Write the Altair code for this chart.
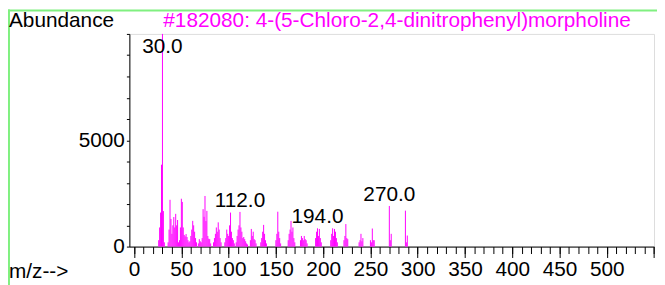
import altair as alt
import pandas as pd

# ---- data ----
mz = [26, 27, 28, 29, 30, 31, 32,
      36, 37, 38, 39, 40, 41, 42, 43, 44, 45, 46, 47, 48,
      49, 50, 51, 52, 53, 54, 55, 56, 57, 58, 59,
      60, 61, 62, 63, 64, 65, 66, 68, 69, 70, 71,
      72, 73, 74, 75, 76, 77, 78, 79, 80, 81,
      84, 85, 86, 87, 88, 89, 90, 91, 92,
      96, 97, 98, 99, 100, 101, 102, 103, 104, 105, 106,
      108, 109, 110, 111, 112, 113, 114, 115, 116, 117, 118, 119, 120,
      123, 124, 125, 126, 127, 128, 129,
      134, 135, 136, 137, 138, 139, 140,
      150, 151, 152, 153, 154, 155,
      163, 164, 165, 166, 167, 168, 169, 170,
      176, 177, 178, 179, 180, 181, 182, 183,
      192, 193, 194, 195, 196, 197, 198,
      208, 209, 210, 211, 212, 213, 214, 215,
      222, 223, 224, 225, 226,
      238, 239, 240, 241, 242,
      250, 251, 252, 253, 254,
      270, 271, 272,
      287, 288, 289]
abundance = [300, 900, 1600, 3850, 9999, 1670, 200,
             200, 800, 2200, 1300, 600, 1000, 1390, 900, 1540, 1000, 1250, 200, 300,
             900, 2250, 2100, 900, 550, 480, 590, 450, 300, 200, 250,
             500, 800, 1210, 1000, 700, 400, 200, 150, 350, 250, 200,
             400, 1760, 1400, 2380, 1200, 1680, 500, 370, 350, 150,
             200, 400, 600, 900, 700, 1140, 800, 400, 200,
             200, 400, 800, 600, 500, 1000, 1600, 700, 400, 300, 150,
             200, 500, 800, 1000, 1630, 900, 700, 400, 450, 350, 250, 150, 100,
             300, 830, 500, 700, 350, 300, 150,
             200, 400, 700, 1020, 600, 300, 150,
             300, 600, 1640, 700, 400, 150,
             300, 600, 800, 1210, 700, 900, 400, 200,
             300, 500, 400, 300, 500, 350, 300, 150,
             400, 700, 860, 500, 830, 400, 200,
             300, 600, 860, 500, 830, 700, 400, 200,
             300, 500, 1060, 400, 350,
             200, 300, 600, 250, 400,
             300, 200, 850, 300, 300,
             1910, 300, 600,
             1690, 200, 520]

label_mz = [30, 112, 194, 270]
label_abund = [9999, 1630, 860, 1910]
label_text = ["30.0", "112.0", "194.0", "270.0"]

x_major = list(range(0, 551, 50))
x_minor = list(range(0, 551, 10))
y_ticks = list(range(0, 10001, 1000))

title_text = "#182080: 4-(5-Chloro-2,4-dinitrophenyl)morpholine"

FONT = "Liberation Sans"
FS = 21
MAGENTA = "#ff00ff"
GREEN = "#80f080"

spec = pd.DataFrame({"mz": mz, "abund": abundance})
labels = pd.DataFrame({"mz": label_mz, "abund": label_abund, "txt": label_text})

W, H = 530.4, 215
PL, PT = 122.7, 24.7

xscale = alt.Scale(domain=[-5, 550], nice=False, zero=False)
yscale = alt.Scale(domain=[0, 10000], nice=False)

xaxis = alt.Axis(
    values=x_major, format="d", title=None, grid=False, orient="bottom",
    labelExpr="datum.value <= 500 ? datum.label : ''",
    tickSize=11, tickWidth=1,
    labelPadding=18, labelBaseline="alphabetic", labelFlush=False,
    labelFont=FONT, labelFontSize=FS, labelColor="black",
    domainColor="black", tickColor="black", labelOverlap=False,
)
xminor = alt.Axis(
    values=x_minor, title=None, grid=False, orient="bottom",
    labels=False, domain=False, tickSize=7, tickWidth=1, tickColor="black",
)
yaxis = alt.Axis(
    values=y_ticks, format="d", title=None, grid=False, orient="left",
    labelExpr="datum.value === 0 || datum.value === 5000 ? datum.label : ''",
    tickSize=3, labelPadding=2, labelBaseline="middle",
    labelFont=FONT, labelFontSize=FS, labelColor="black",
    domainColor="black", tickColor="black", labelOverlap=False,
)

bars = alt.Chart(spec).mark_rule(color=MAGENTA, strokeWidth=1).encode(
    x=alt.X("mz:Q", scale=xscale, axis=xaxis),
    y=alt.Y("abund:Q", scale=yscale, axis=yaxis),
    y2=alt.datum(0),
)

minor_ticks = alt.Chart(pd.DataFrame({"v": x_minor})).mark_point(opacity=0).encode(
    x=alt.X("v:Q", scale=xscale, axis=xminor),
)

peak_labels = alt.Chart(labels).transform_calculate(
    ly="min(datum.abund, 8880)"
).mark_text(
    font=FONT, fontSize=FS, color="black", align="center",
    baseline="alphabetic", dy=-5,
).encode(
    x=alt.X("mz:Q", scale=xscale, axis=None),
    y=alt.Y("ly:Q", scale=yscale, axis=None),
    text="txt:N",
)

ylab = alt.Chart(pd.DataFrame({"t": ["Abundance"]})).mark_text(
    font=FONT, fontSize=FS, color="black", align="left", baseline="alphabetic"
).encode(x=alt.value(-121.7), y=alt.value(-6.7), text="t:N")

title = alt.Chart(pd.DataFrame({"t": [title_text]})).mark_text(
    font=FONT, fontSize=FS, color=MAGENTA, align="left", baseline="alphabetic"
).encode(x=alt.value(34.3), y=alt.value(-6.7), text="t:N")

xlab = alt.Chart(pd.DataFrame({"t": ["m/z-->"]})).mark_text(
    font=FONT, fontSize=FS, color="black", align="left", baseline="alphabetic"
).encode(x=alt.value(-121.7), y=alt.value(246.3), text="t:N")

green_top = alt.Chart(pd.DataFrame({"a": [0]})).mark_rule(
    color=GREEN, strokeWidth=2
).encode(x=alt.value(-PL), x2=alt.value(W + 10), y=alt.value(-PT + 1))

green_left = alt.Chart(pd.DataFrame({"a": [0]})).mark_rule(
    color=GREEN, strokeWidth=2
).encode(x=alt.value(-PL + 1), y=alt.value(-PT), y2=alt.value(H + 40))

chart = alt.layer(
    bars, minor_ticks, peak_labels, green_top, green_left, ylab, title, xlab
).resolve_axis(
    x="independent", y="independent"
).properties(
    width=W, height=H,
    padding={"left": PL, "top": PT, "right": 3, "bottom": 37},
    autosize=alt.AutoSizeParams(type="none"),
).configure_view(strokeWidth=0).configure(background="white")

chart.save("out.html", embed_options={"renderer": "svg", "actions": False})
